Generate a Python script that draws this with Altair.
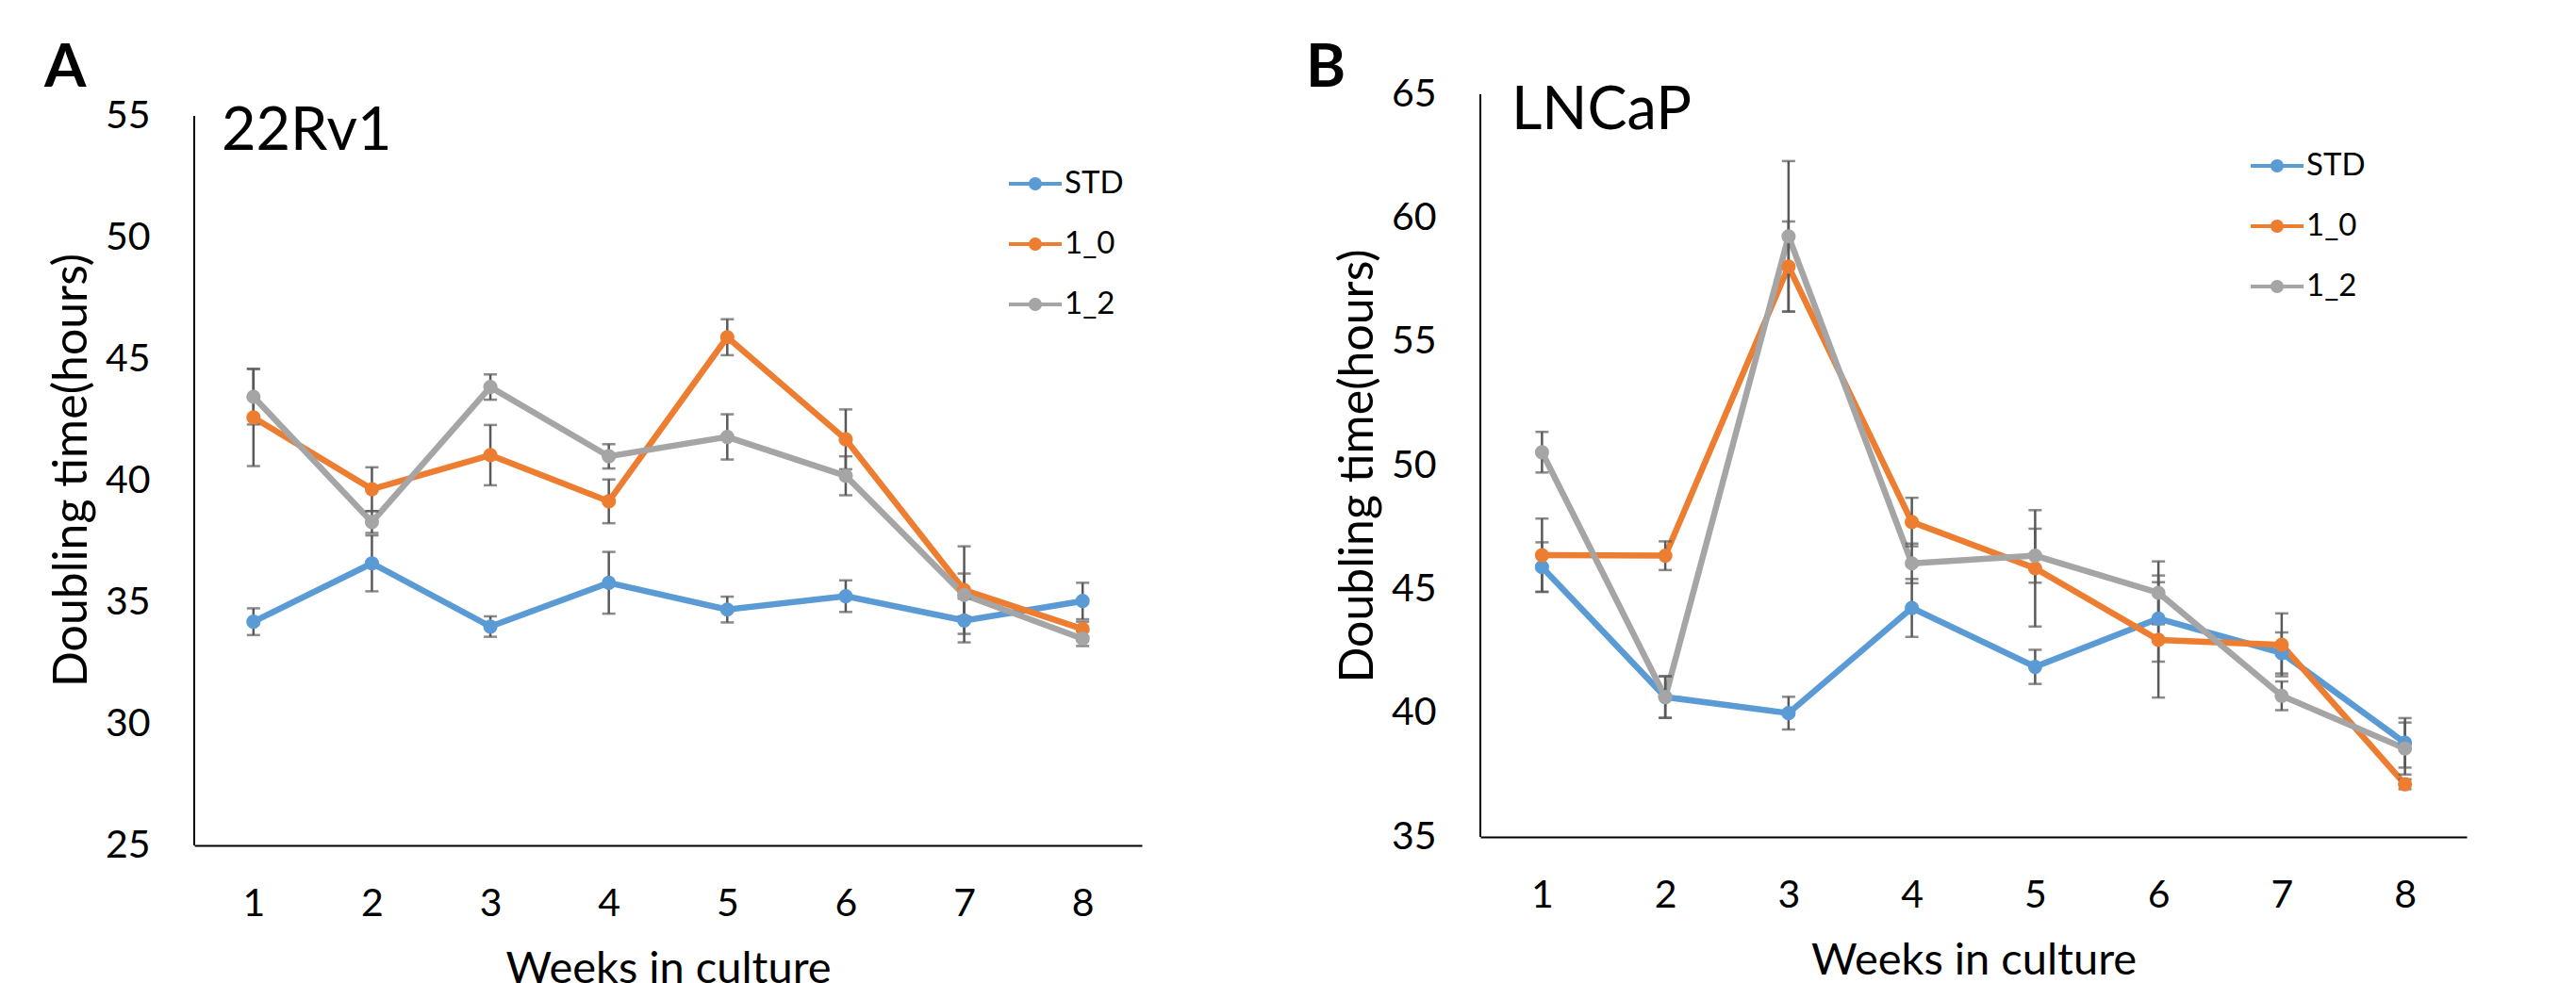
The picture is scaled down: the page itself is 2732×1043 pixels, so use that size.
import altair as alt
import pandas as pd

weeks = [1, 2, 3, 4, 5, 6, 7, 8]
series_names = ["STD", "1_0", "1_2"]
colors = ["#5B9BD5", "#ED7D31", "#A5A5A5"]

# Panel A: 22Rv1
a_std = [34.2, 36.6, 34.0, 35.8, 34.7, 35.25, 34.25, 35.05]
a_std_err = [0.55, 1.15, 0.42, 1.27, 0.53, 0.65, 0.9, 0.75]
a_10 = [42.6, 39.65, 41.05, 39.15, 45.9, 41.7, 35.5, 33.9]
a_10_err = [2.0, 0.9, 1.24, 0.9, 0.74, 1.23, 1.8, 0.3]
a_12 = [43.45, 38.3, 43.85, 41.0, 41.8, 40.2, 35.3, 33.5]
a_12_err = [1.14, 0.45, 0.52, 0.5, 0.93, 0.8, 0.88, 0.3]

# Panel B: LNCaP
b_std = [45.9, 40.65, 40.0, 44.25, 41.87, 43.82, 42.43, 38.8]
b_std_err = [1.0, 0.84, 0.66, 1.17, 0.69, 1.74, 0.83, 1.0]
b_10 = [46.38, 46.36, 58.04, 47.72, 45.85, 42.96, 42.76, 37.13]
b_10_err = [1.48, 0.58, 1.82, 0.98, 2.35, 2.33, 1.27, 0.2]
b_12 = [50.54, 40.65, 59.26, 46.05, 46.36, 44.86, 40.70, 38.57]
b_12_err = [0.82, 0.84, 3.04, 0.8, 1.09, 1.27, 0.58, 1.05]

a_ticks = [25, 30, 35, 40, 45, 50, 55]
b_ticks = [35, 40, 45, 50, 55, 60, 65]

FONT = "Lato"
SYMBOL = ("M-1,-0.075L1,-0.075L1,0.075L-1,0.075Z "
          "M0.25,0A0.25,0.25,0,1,1,-0.25,0A0.25,0.25,0,1,1,0.25,0Z")


def make_df(vals, errs):
    rows = []
    for name, v, e in zip(series_names, vals, errs):
        for w, val, err in zip(weeks, v, e):
            rows.append({"week": w, "series": name, "value": val,
                         "lo": val - err, "hi": val + err})
    return pd.DataFrame(rows)


def panel(df, ticks, name, letter, width, height, extra_top,
          letter_x, name_x, name_y, leg_x, leg_y):
    # the plot area may extend a little above the top tick (as in panel A)
    px_per_unit = (height - extra_top) / (ticks[-1] - ticks[0])
    dom_top = ticks[-1] + extra_top / px_per_unit
    x = alt.X("week:O", title="Weeks in culture",
              scale=alt.Scale(type="point", padding=0.5),
              axis=alt.Axis(labelAngle=0, labelPadding=42, titlePadding=26,
                            titleFontSize=47))
    yscale = alt.Scale(domain=[ticks[0], dom_top], nice=False, zero=False)
    y = alt.Y("value:Q", title="Doubling time(hours)", scale=yscale,
              axis=alt.Axis(values=ticks, labelPadding=47, titlePadding=10,
                            titleFontSize=50, domain=False))
    color_scale = alt.Scale(domain=series_names, range=colors)
    base = alt.Chart(df)

    yaxis_line = base.mark_rule(color="black", strokeWidth=2).encode(
        x=alt.value(0), y=alt.datum(ticks[-1]), y2=alt.datum(ticks[0]))
    line_layers = [
        base.transform_filter(alt.datum.series == s).mark_line(
            strokeWidth=6.5, color=c).encode(x=x, y=y)
        for s, c in zip(series_names, colors)
    ]
    bars = base.mark_rule(color="#595959", strokeWidth=2.5).encode(
        x="week:O", y="lo:Q", y2="hi:Q")
    cap_lo = base.mark_tick(color="#595959", thickness=2.5, size=14).encode(
        x="week:O", y="lo:Q")
    cap_hi = base.mark_tick(color="#595959", thickness=2.5, size=14).encode(
        x="week:O", y="hi:Q")
    points = base.mark_point(filled=True, size=230, opacity=1).encode(
        x="week:O", y="value:Q",
        color=alt.Color("series:N", scale=color_scale,
                        legend=alt.Legend(
                            orient="none", legendX=leg_x, legendY=leg_y,
                            title=None, symbolType=SYMBOL, symbolSize=3136,
                            symbolStrokeWidth=0, symbolOpacity=1,
                            labelFont=FONT, labelFontSize=33,
                            labelColor="black", labelOffset=3,
                            rowPadding=19, padding=0)),
    )
    name_lbl = alt.Chart(pd.DataFrame({"t": [name]})).mark_text(
        font=FONT, fontSize=63, align="left", baseline="alphabetic",
        color="black").encode(text="t:N", x=alt.value(name_x),
                              y=alt.value(name_y))
    letter_lbl = alt.Chart(pd.DataFrame({"t": [letter]})).mark_text(
        font=FONT, fontSize=64, fontWeight="bold", align="left",
        baseline="alphabetic", color="black").encode(
        text="t:N", x=alt.value(letter_x), y=alt.value(-8))

    return alt.layer(yaxis_line, *line_layers, bars, cap_lo, cap_hi, points,
                     name_lbl, letter_lbl).properties(width=width,
                                                      height=height)


pa = panel(make_df([a_std, a_10, a_12], [a_std_err, a_10_err, a_12_err]),
           a_ticks, "22Rv1", "A", 1005, 797, 23, -159, 29, 59, 864, 67)
pb = panel(make_df([b_std, b_10, b_12], [b_std_err, b_10_err, b_12_err]),
           b_ticks, "LNCaP", "B", 1046, 788, 0, -185, 33, 37, 817, 48)

chart = alt.hconcat(pa, pb, spacing=174).resolve_legend(
    color="independent"
).properties(
    padding={"left": 39, "top": 33, "right": 5, "bottom": 0}
).configure_view(stroke=None).configure_axis(
    domainColor="black", domainWidth=2, labelColor="black", labelFont=FONT,
    labelFontSize=41, titleFont=FONT, titleFontSize=41,
    titleFontWeight="normal", titleColor="black", grid=False, ticks=False,
    tickSize=0,
)

chart.save("out.html", embed_options={"renderer": "svg", "actions": False})
